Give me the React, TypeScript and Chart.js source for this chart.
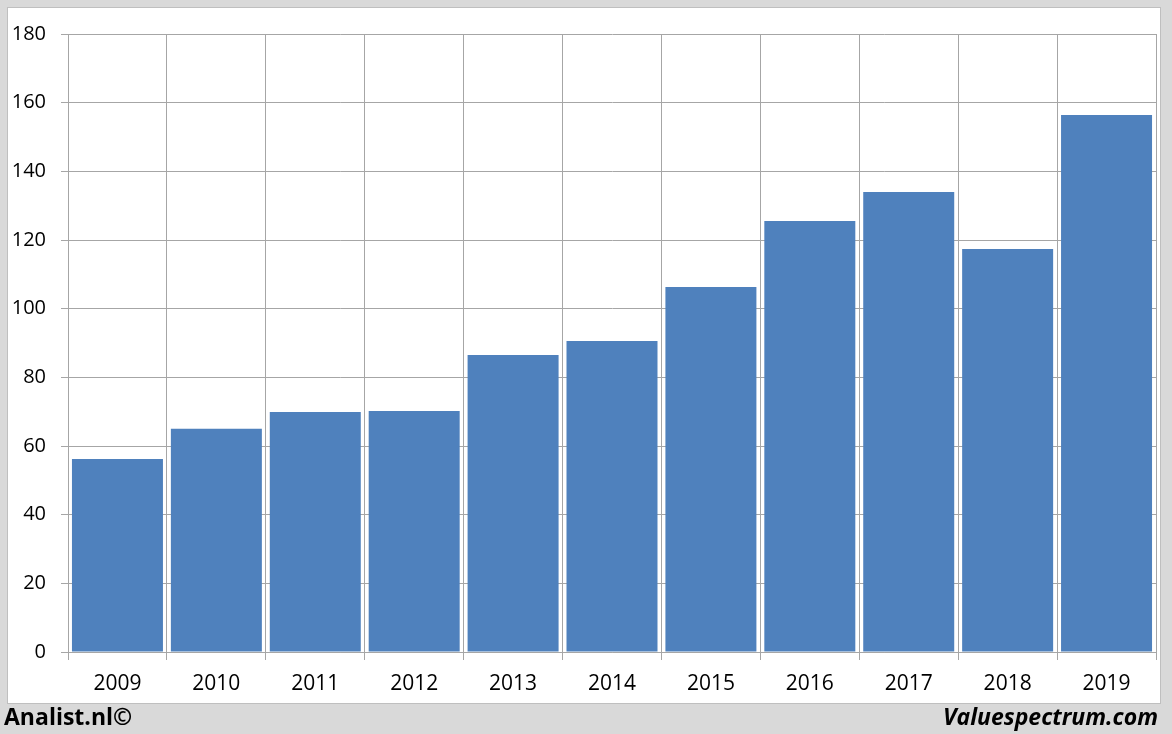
import React, { useEffect, useRef } from "react";
import { Chart, registerables } from "chart.js";

Chart.register(...registerables);

const categories = ["2009", "2010", "2011", "2012", "2013", "2014", "2015", "2016", "2017", "2018", "2019"];
const values = [56.2, 65.0, 69.9, 70.2, 86.5, 90.6, 106.3, 125.5, 134.0, 117.4, 156.4];
const yTicks = [0, 20, 40, 60, 80, 100, 120, 140, 160, 180];
const leftCredit = "Analist.nl©";
const rightCredit = "Valuespectrum.com";

export default function App() {
  const ref = useRef<HTMLCanvasElement | null>(null);

  useEffect(() => {
    document.body.style.margin = "0";
    const ctx = ref.current;
    if (!ctx) return;
    const chart = new Chart(ctx, {
      type: "bar",
      data: {
        labels: categories,
        datasets: [
          {
            data: values,
            backgroundColor: "#4F81BD",
            borderWidth: 0,
            barPercentage: 0.92,
            categoryPercentage: 1,
          },
        ],
      },
      options: {
        animation: false,
        responsive: false,
        maintainAspectRatio: false,
        events: [],
        layout: { padding: { left: 0, top: 34, right: 16, bottom: 0 } },
        plugins: { legend: { display: false }, tooltip: { enabled: false } },
        scales: {
          x: {
            grid: {
              display: true,
              color: "#a6a6a6",
              lineWidth: 1,
              drawTicks: true,
              tickLength: 8,
              offset: true,
            },
            border: { display: true, color: "#a6a6a6" },
            ticks: {
              color: "#000",
              font: { family: "Open Sans", size: 21 },
              padding: 11,
              maxRotation: 0,
            },
            afterFit: (s: any) => {
              s.height = 82;
            },
          },
          y: {
            min: 0,
            max: 180,
            afterBuildTicks: (s: any) => {
              s.ticks = yTicks.map((v) => ({ value: v }));
            },
            grid: { color: "#a6a6a6", lineWidth: 1, drawTicks: true, tickLength: 7 },
            border: { display: true, color: "#a6a6a6" },
            ticks: {
              color: "#000",
              font: { family: "Open Sans", size: 20 },
              padding: 15,
            },
            afterFit: (s: any) => {
              s.width = 68;
            },
          },
        },
      },
    });
    return () => chart.destroy();
  }, []);

  return (
    <div style={{ position: "relative", width: 1172, height: 734, background: "#d9d9d9", overflow: "hidden" }}>
      <div
        style={{
          position: "absolute",
          left: 8,
          top: 8,
          width: 1152,
          height: 695,
          background: "#fff",
          boxShadow: "0 0 0 1px #bfbfbf",
        }}
      />
      <canvas ref={ref} width={1172} height={734} style={{ position: "absolute", left: 0, top: 0 }} />
      <div
        style={{
          position: "absolute",
          left: 4,
          top: 700,
          fontFamily: "Open Sans",
          fontWeight: 700,
          fontSize: 23,
          color: "#000",
          lineHeight: "32px",
        }}
      >
        {leftCredit}
      </div>
      <div
        style={{
          position: "absolute",
          right: 14,
          top: 700,
          fontFamily: "Open Sans",
          fontWeight: 700,
          fontStyle: "italic",
          fontSize: 23,
          color: "#000",
          lineHeight: "32px",
        }}
      >
        {rightCredit}
      </div>
    </div>
  );
}
